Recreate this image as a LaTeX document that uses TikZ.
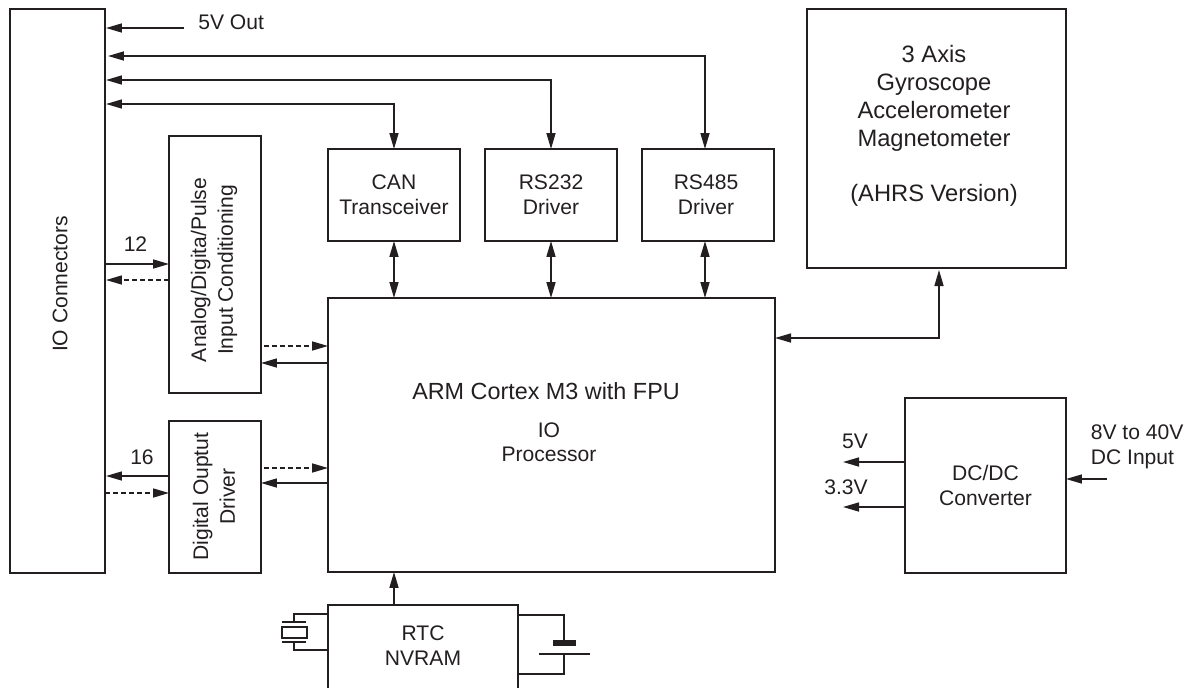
\documentclass[tikz,border=0pt]{standalone}
\usepackage{fontspec}
\setmainfont{Liberation Sans}
\usetikzlibrary{arrows.meta}
\definecolor{ink}{HTML}{231F20}
\tikzset{
    block/.style={draw=ink, line width=0.9pt, align=center, inner sep=0pt, outer sep=0pt, text=ink, font=\fontsize{12}{14.2}\selectfont},
    lbl/.style={align=left, inner sep=0pt, text=ink, font=\fontsize{12}{14.2}\selectfont},
    side/.style={lbl, rotate=90, align=center, font=\fontsize{12}{15.2}\selectfont},
    wire/.style={draw=ink, line width=0.9pt},
    sig/.style={wire, -{Triangle[length=3.2mm,width=1.8mm]}},
    dbl/.style={wire, {Triangle[length=3.2mm,width=1.8mm]}-{Triangle[length=3.2mm,width=1.8mm]}},
    dsh/.style={sig, dash pattern=on 2.7pt off 1.9pt},
}

\begin{document}
\begin{tikzpicture}[x=0.02cm, y=-0.02cm]
    \clip (0,0) rectangle (1193,687);

    \node[block, minimum width=1.90cm, minimum height=11.28cm] (io) at (57.5,291) {};
    \node[side] (iotext) at (60,284) {IO Connectors};
    \node[block, minimum width=1.84cm, minimum height=5.13cm] (analog) at (215,264.5) {};
    \node[side] (analogtext) at (214,270) {Analog/Digita/Pulse\\Input Conditioning};
    \node[block, minimum width=1.84cm, minimum height=3.03cm] (digital) at (215,497) {};
    \node[side] (digitaltext) at (214,496.5) {Digital Ouptut\\Driver};
    \node[block, minimum width=2.64cm, minimum height=1.84cm] (can) at (394,195) {CAN\\Transceiver};
    \node[block, minimum width=2.64cm, minimum height=1.84cm] (rsa) at (551,195) {RS232\\Driver};
    \node[block, minimum width=2.64cm, minimum height=1.84cm] (rsb) at (708,195) {};
    \node[lbl, align=center] (rsbtext) at (706,195) {RS485\\Driver};
    \node[block, minimum width=8.94cm, minimum height=5.48cm] (arm) at (551.5,435) {};
    \node[lbl, font=\fontsize{13.3}{16}\selectfont] (armtext) at (546,391) {ARM Cortex M3 with FPU};
    \node[lbl, align=center, font=\fontsize{12}{13.6}\selectfont] (proc) at (549,442) {IO\\Processor};
    \node[block, minimum width=5.18cm, minimum height=5.18cm] (ahrs) at (936.5,138.5) {};
    \node[lbl, align=center, font=\fontsize{13.5}{15.9}\selectfont] (ahrstext) at (934,126) {3 Axis\\Gyroscope\\Accelerometer\\Magnetometer\\[\baselineskip](AHRS Version)};
    \node[block, minimum width=3.22cm, minimum height=3.50cm] (dcdc) at (985.5,485.5) {DC/DC\\Converter};
    \node[block, minimum width=3.80cm, minimum height=2.20cm] (rtc) at (423,660) {};
    \node[lbl, align=center] (rtctext) at (423,645.5) {RTC\\NVRAM};

    \node[lbl, anchor=west] (out) at (198,22) {5V Out};
    \node[lbl] (twelve) at (135.5,244) {12};
    \node[lbl] (sixteen) at (142,457) {16};
    \node[lbl] (five) at (855,441) {5V};
    \node[lbl] (three) at (846,487) {3.3V};
    \node[lbl, anchor=west] (input) at (1090.5,447) {8V to 40V\\DC Input};

    \coordinate (outa) at (184,28);
    \coordinate (outb) at (106,28);
    \coordinate (busa) at (108,56);
    \coordinate (busb) at (106,80);
    \coordinate (busc) at (106,104);
    \coordinate (tap) at (705,149);
    \coordinate (ioa) at (105,264);
    \coordinate (iob) at (106,280);
    \coordinate (ioc) at (106,476);
    \coordinate (iod) at (105,493);
    \coordinate (ana) at (264,346);
    \coordinate (anb) at (328,363);
    \coordinate (dia) at (264,468);
    \coordinate (dib) at (328,483);
    \coordinate (port) at (775,338);
    \coordinate (sense) at (939,270);
    \coordinate (fivea) at (905,462);
    \coordinate (fiveb) at (843,462);
    \coordinate (threea) at (905,507);
    \coordinate (threeb) at (843,507);
    \coordinate (ina) at (1107,479);

    \draw[sig] (outa) -- (outb);
    \draw[dbl] (tap) |- (busa);
    \draw[dbl] (rsa.north) |- (busb);
    \draw[dbl] (can.north) |- (busc);
    \draw[dbl] (can.south) -- (arm.north -| can.south);
    \draw[dbl] (rsa.south) -- (arm.north -| rsa.south);
    \draw[dbl] (rsb.south -| tap) -- (arm.north -| tap);
    \draw[dbl] (port) -| (sense);
    \draw[sig] (ioa) -- (ioa -| analog.west);
    \draw[dsh] (iob -| analog.west) -- (iob);
    \draw[sig] (ioc -| digital.west) -- (ioc);
    \draw[dsh] (iod) -- (iod -| digital.west);
    \draw[dsh] (ana) -- (ana -| arm.west);
    \draw[sig] (anb) -- (anb -| analog.east);
    \draw[dsh] (dia) -- (dia -| arm.west);
    \draw[sig] (dib) -- (dib -| digital.east);
    \draw[sig] (rtc.north -| can.south) -- (arm.south -| can.south);
    \draw[sig] (fivea) -- (fiveb);
    \draw[sig] (threea) -- (threeb);
    \draw[sig] (ina) -- (ina -| dcdc.east);

    \draw[wire] (328,614) -| (294,622);
    \draw[wire] (328,650) -| (294,642);
    \draw[wire] (282,622) -- (306,622);
    \draw[wire] (282,642) -- (306,642);
    \draw[wire] (282,627) rectangle (307,638);

    \draw[wire] (518,615) -| (564,643);
    \draw[wire] (518,674) -| (564,654);
    \draw[ink, line width=3.5pt] (553,643) -- (576,643);
    \draw[wire] (539,654) -- (590,654);
\end{tikzpicture}
\end{document}
